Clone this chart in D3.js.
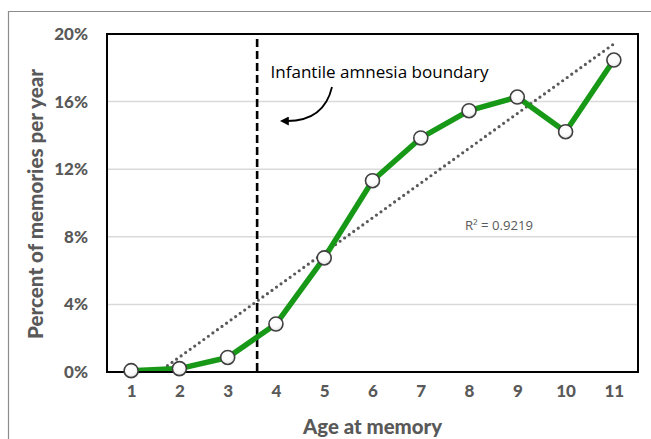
<!DOCTYPE html>
<html><head><meta charset="utf-8">
<script src="https://cdn.jsdelivr.net/npm/d3@7/dist/d3.min.js"></script>
<style>
html,body{margin:0;padding:0;background:#fff;}
svg{display:block;}
</style></head>
<body>
<svg id="chart" width="651" height="439"></svg>
<script>
const ages = [1,2,3,4,5,6,7,8,9,10,11];
const percents = [0.08,0.2,0.86,2.84,6.75,11.32,13.85,15.46,16.27,14.22,18.46];
const yTicks = [0,4,8,12,16,20];
const boundaryAge = 3.61;
const boundaryTop = 19.7;
const annotationText = "Infantile amnesia boundary";
const r2Text = "R\u00b2 = 0.9219";
const xTitle = "Age at memory";
const yTitle = "Percent of memories per year";

const svg = d3.select("#chart");
const W = 651, H = 439;
const m = {left:107, right:638, top:34, bottom:372};
const font = "Lato, 'Open Sans', sans-serif";
const textGray = "#595959";

// outer frame
svg.append("path").attr("d", `M8.5,${H} V11.5 H${W}`).attr("fill","none")
  .attr("stroke","#8c8c8c").attr("stroke-width",1.2);

const x = d3.scalePoint().domain(ages).range([m.left, m.right]).padding(0.5);
const xl = d3.scaleLinear().domain([1,11]).range([x(1), x(11)]);
const y = d3.scaleLinear().domain([0,20]).range([m.bottom, m.top]);

// gridlines
svg.append("g").selectAll("line").data(yTicks.filter(d=>d>0 && d<20)).join("line")
  .attr("x1", m.left).attr("x2", m.right)
  .attr("y1", d=>y(d)).attr("y2", d=>y(d))
  .attr("stroke","#d9d9d9").attr("stroke-width",1.5);

// Y axis
const ya = svg.append("g").attr("transform",`translate(${m.left},0)`)
  .call(d3.axisLeft(y).tickValues(yTicks).tickFormat(d=>d+"%").tickSize(0).tickPadding(19));
ya.select(".domain").remove();
ya.selectAll("text").attr("font-family",font).attr("font-weight","900")
  .attr("font-size",17).attr("fill",textGray);

// X axis
const xa = svg.append("g").attr("transform",`translate(0,${m.bottom})`)
  .call(d3.axisBottom(x).tickSize(0).tickPadding(20));
xa.select(".domain").remove();
xa.selectAll("text").attr("font-family",font).attr("font-weight","900")
  .attr("font-size",17).attr("fill",textGray).attr("dy","0.32em");

// titles
svg.append("text").attr("x",(m.left+m.right)/2).attr("y",434)
  .attr("text-anchor","middle").attr("font-family",font).attr("font-weight","900")
  .attr("font-size",20).attr("fill",textGray).attr("textLength",139)
  .attr("lengthAdjust","spacingAndGlyphs").text(xTitle);
svg.append("text").attr("transform",`translate(43,${(m.top+m.bottom)/2+1}) rotate(-90)`)
  .attr("text-anchor","middle").attr("font-family",font).attr("font-weight","900")
  .attr("font-size",20).attr("fill",textGray).attr("textLength",270)
  .attr("lengthAdjust","spacingAndGlyphs").text(yTitle);

// clip
svg.append("clipPath").attr("id","plotclip").append("rect")
  .attr("x",m.left).attr("y",m.top).attr("width",m.right-m.left).attr("height",m.bottom-m.top);

// trendline (linear regression)
const mx = d3.mean(ages), my = d3.mean(percents);
const slope = d3.sum(ages.map((a,i)=>(a-mx)*(percents[i]-my))) / d3.sum(ages.map(a=>(a-mx)**2));
const icpt = my - slope*mx;
svg.append("line").attr("clip-path","url(#plotclip)")
  .attr("x1", xl(1)).attr("y1", y(icpt+slope*1))
  .attr("x2", xl(11)).attr("y2", y(icpt+slope*11))
  .attr("stroke","#595959").attr("stroke-width",3.2)
  .attr("stroke-dasharray","0 5.6").attr("stroke-linecap","round");

// boundary dashed line
svg.append("line").attr("x1", xl(boundaryAge)).attr("x2", xl(boundaryAge))
  .attr("y1", y(boundaryTop)).attr("y2", y(0))
  .attr("stroke","#000").attr("stroke-width",2.6).attr("stroke-dasharray","8 4");

// data line
svg.append("path").datum(ages.map((a,i)=>[a,percents[i]]))
  .attr("d", d3.line().x(d=>x(d[0])).y(d=>y(d[1])))
  .attr("fill","none").attr("stroke","#179917").attr("stroke-width",5.5)
  .attr("stroke-linejoin","round");

// plot border
svg.append("rect").attr("x",m.left).attr("y",m.top).attr("width",m.right-m.left)
  .attr("height",m.bottom-m.top).attr("fill","none").attr("stroke","#000").attr("stroke-width",2);

// markers
const defs = svg.append("defs");
const grad = defs.append("radialGradient").attr("id","mg").attr("cx","45%").attr("cy","35%").attr("r","70%");
grad.append("stop").attr("offset","0%").attr("stop-color","#ffffff");
grad.append("stop").attr("offset","60%").attr("stop-color","#fafafa");
grad.append("stop").attr("offset","100%").attr("stop-color","#d6d6d6");
svg.append("g").selectAll("circle").data(ages.map((a,i)=>[a,percents[i]])).join("circle")
  .attr("cx",d=>x(d[0])).attr("cy",d=>y(d[1])).attr("r",7)
  .attr("fill","url(#mg)").attr("stroke","#404040").attr("stroke-width",1.6);

// annotation
svg.append("text").attr("x",270.5).attr("y",77.5).attr("font-family","'Open Sans', sans-serif")
  .attr("font-size",17).attr("fill","#000").attr("textLength",218)
  .attr("lengthAdjust","spacingAndGlyphs").text(annotationText);
defs.append("marker").attr("id","ah").attr("viewBox","0 0 10 10").attr("refX",2).attr("refY",5)
  .attr("markerWidth",5).attr("markerHeight",5).attr("orient","auto-start-reverse")
  .attr("markerUnits","strokeWidth")
  .append("path").attr("d","M0,0 L10,5 L0,10 z").attr("fill","#000");
svg.append("path").attr("d","M332,87 Q324,121 287,121")
  .attr("fill","none").attr("stroke","#000").attr("stroke-width",1.8)
  .attr("marker-end","url(#ah)");

// R2
svg.append("text").attr("x",465).attr("y",230).attr("font-family","'Open Sans', sans-serif")
  .attr("font-size",12).attr("fill",textGray).attr("textLength",68)
  .attr("lengthAdjust","spacingAndGlyphs").text(r2Text);
</script>
</body></html>
